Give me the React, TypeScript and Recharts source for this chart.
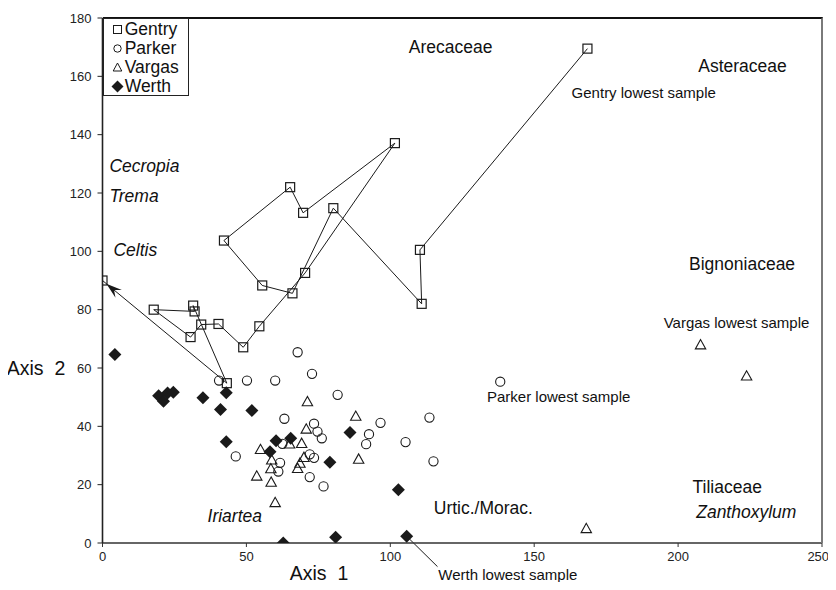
import React from 'react';
import { ScatterChart, Scatter, XAxis, YAxis, ReferenceLine, ReferenceDot } from 'recharts';

const FONT = '"Liberation Sans", Arial, Helvetica, sans-serif';
const INK = '#1a1a1a';

const xTicks = [0, 50, 100, 150, 200, 250];
const yTicks = [0, 20, 40, 60, 80, 100, 120, 140, 160, 180];

// Gentry core, in stratigraphic order: lowest sample first, top sample last
const gentry = [
  { x: 168.5, y: 169.5 }, { x: 110.3, y: 100.5 }, { x: 110.9, y: 82 }, { x: 80.2, y: 114.8 },
  { x: 66, y: 85.6 }, { x: 55.5, y: 88.3 }, { x: 42.2, y: 103.7 }, { x: 65.2, y: 122 },
  { x: 69.7, y: 113.2 }, { x: 101.6, y: 137.1 }, { x: 70.4, y: 92.6 }, { x: 54.5, y: 74.3 },
  { x: 48.9, y: 67.1 }, { x: 40.3, y: 75.1 }, { x: 34.3, y: 74.9 }, { x: 30.6, y: 70.6 },
  { x: 17.8, y: 80 }, { x: 32, y: 79.4 }, { x: 31.5, y: 81.4 }, { x: 43.2, y: 54.8 },
  { x: 0, y: 90 },
];

const parker = [
  { x: 40.5, y: 55.7 }, { x: 50.2, y: 55.7 }, { x: 60, y: 55.7 }, { x: 67.8, y: 65.4 },
  { x: 72.8, y: 58 }, { x: 81.7, y: 50.8 }, { x: 63.2, y: 42.6 }, { x: 73.5, y: 40.9 },
  { x: 74.7, y: 38.2 }, { x: 76.2, y: 35.9 }, { x: 62.5, y: 34 }, { x: 46.3, y: 29.7 },
  { x: 61.7, y: 27.5 }, { x: 61.1, y: 24.5 }, { x: 72, y: 30.4 }, { x: 73.5, y: 29.2 },
  { x: 72, y: 22.6 }, { x: 76.8, y: 19.4 }, { x: 92.6, y: 37.3 }, { x: 91.6, y: 33.9 },
  { x: 96.6, y: 41.2 }, { x: 105.3, y: 34.6 }, { x: 113.6, y: 43 }, { x: 115, y: 28 },
  { x: 138.2, y: 55.3 },
];

const vargas = [
  { x: 71.2, y: 48.4 }, { x: 88, y: 43.4 }, { x: 70.8, y: 39 }, { x: 69.2, y: 34.1 },
  { x: 65, y: 33.9 }, { x: 54.9, y: 32 }, { x: 58.8, y: 28.4 }, { x: 58.5, y: 25.4 },
  { x: 53.6, y: 22.9 }, { x: 58.6, y: 20.8 }, { x: 60, y: 13.8 }, { x: 67.8, y: 25.5 },
  { x: 68.6, y: 27.3 }, { x: 70, y: 29.3 }, { x: 89, y: 28.7 }, { x: 168.1, y: 4.9 },
  { x: 207.8, y: 67.9 }, { x: 223.8, y: 57.2 },
];

const werth = [
  { x: 4.3, y: 64.6 }, { x: 19.5, y: 50.5 }, { x: 21.2, y: 48.6 }, { x: 22.6, y: 51.4 },
  { x: 24.6, y: 51.7 }, { x: 34.9, y: 49.8 }, { x: 43, y: 51.5 }, { x: 41, y: 45.8 },
  { x: 51.9, y: 45.4 }, { x: 43, y: 34.7 }, { x: 60.3, y: 35.1 }, { x: 58.2, y: 31.3 },
  { x: 65.4, y: 35.9 }, { x: 79, y: 27.7 }, { x: 86, y: 37.9 }, { x: 102.8, y: 18.3 },
  { x: 62.8, y: 0 }, { x: 81, y: 2 }, { x: 105.7, y: 2.3 },
];

const seriesNames = ['Gentry', 'Parker', 'Vargas', 'Werth'];

// text notes placed in data units (left edge, vertical centre)
const notes = [
  { text: 'Arecaceae', x: 106.4, y: 170, size: 17.5, italic: false },
  { text: 'Asteraceae', x: 207, y: 163.7, size: 17.5, italic: false },
  { text: 'Gentry lowest sample', x: 163, y: 154.5, size: 15, italic: false },
  { text: 'Cecropia', x: 2.4, y: 129.4, size: 17.5, italic: true },
  { text: 'Trema', x: 2.4, y: 119.1, size: 17.5, italic: true },
  { text: 'Celtis', x: 3.8, y: 100.3, size: 17.5, italic: true },
  { text: 'Bignoniaceae', x: 203.8, y: 95.8, size: 17.5, italic: false },
  { text: 'Vargas lowest sample', x: 195, y: 75.7, size: 15, italic: false },
  { text: 'Parker lowest sample', x: 133.6, y: 50.3, size: 15, italic: false },
  { text: 'Tiliaceae', x: 205, y: 19.1, size: 17.5, italic: false },
  { text: 'Zanthoxylum', x: 206.3, y: 10.6, size: 17.5, italic: true },
  { text: 'Urtic./Morac.', x: 115.1, y: 11.9, size: 17.5, italic: false },
  { text: 'Iriartea', x: 36.5, y: 9.1, size: 17.5, italic: true },
  { text: 'Werth lowest sample', x: 116.7, y: -10.7, size: 15, italic: false },
];

const Square = (p: any) => (
  <rect x={p.cx - 4.5} y={p.cy - 4.5} width={9} height={9} fill="none" stroke={INK} strokeWidth={1.2} />
);
const Ring = (p: any) => (
  <circle cx={p.cx} cy={p.cy} r={4.6} fill="none" stroke={INK} strokeWidth={1.1} />
);
const Tri = (p: any) => (
  <polygon
    points={`${p.cx},${p.cy - 5.4} ${p.cx - 5.2},${p.cy + 3.9} ${p.cx + 5.2},${p.cy + 3.9}`}
    fill="none" stroke={INK} strokeWidth={1.1}
  />
);
const Diamond = (p: any) => (
  <polygon
    points={`${p.cx},${p.cy - 6.5} ${p.cx + 6.5},${p.cy} ${p.cx},${p.cy + 6.5} ${p.cx - 6.5},${p.cy}`}
    fill={INK}
  />
);

// arrowhead only; the segment itself is part of the Gentry line
const ArrowHead = (p: any) => {
  const { x1, y1, x2, y2 } = p;
  const len = Math.hypot(x2 - x1, y2 - y1) || 1;
  const ux = (x2 - x1) / len, uy = (y2 - y1) / len;
  const tx = x2 - ux * 5, ty = y2 - uy * 5;
  const bx = tx - ux * 16, by = ty - uy * 16;
  const nx = tx - ux * 10, ny = ty - uy * 10;
  const pts = `${tx},${ty} ${bx - uy * 5},${by + ux * 5} ${nx},${ny} ${bx + uy * 5},${by - ux * 5}`;
  return <polygon points={pts} fill={INK} />;
};

const Pointer = (p: any) => (
  <line x1={p.x1} y1={p.y1} x2={p.x2} y2={p.y2} stroke={INK} strokeWidth={1} />
);

const NoteText = (n: any) => (p: any) => (
  <text
    x={p.cx} y={p.cy} dominantBaseline="central" fontFamily={FONT} fontSize={n.size}
    fontStyle={n.italic ? 'italic' : 'normal'} fill="#111"
  >
    {n.text}
  </text>
);

const legendIcon = (name: string) => {
  if (name === 'Gentry') return <rect x={1.5} y={1.5} width={8} height={8} fill="none" stroke={INK} strokeWidth={1} />;
  if (name === 'Parker') return <circle cx={5.5} cy={5.5} r={3.7} fill="none" stroke={INK} strokeWidth={1} />;
  if (name === 'Vargas') return <polygon points="5.5,1 1.2,9 9.8,9" fill="none" stroke={INK} strokeWidth={1} />;
  return <polygon points="5.5,-0.5 11.5,5.5 5.5,11.5 -0.5,5.5" fill={INK} />;
};

export default function App() {
  const top = gentry[gentry.length - 1];
  const prev = gentry[gentry.length - 2];
  const werthLowest = werth[werth.length - 1];
  return (
    <div style={{ position: 'relative', width: 820, height: 582, marginBottom: -8 }}>
      <style>{'svg.recharts-surface{overflow:visible}'}</style>
      <ScatterChart width={820} height={582} margin={{ top: 10, right: 6, left: 50.5, bottom: 17 }}>
        <XAxis
          dataKey="x" type="number" domain={[0, 250]} ticks={xTicks} height={30}
          tickSize={4} tickMargin={5} allowDataOverflow
          axisLine={{ stroke: '#333', strokeWidth: 1.6 }} tickLine={{ stroke: '#333' }}
          tick={{ fontSize: 13, fill: '#222', fontFamily: FONT }}
          label={{
            content: () => (
              <text x={311} y={565} textAnchor="middle" dominantBaseline="central" fontFamily={FONT} fontSize={19.5} fill="#111">
                {'Axis\u00A0 1'}
              </text>
            ),
          }}
        />
        <YAxis
          dataKey="y" type="number" domain={[0, 180]} ticks={yTicks} width={44}
          tickSize={5} tickMargin={6} allowDataOverflow
          axisLine={{ stroke: '#222', strokeWidth: 1.6 }} tickLine={{ stroke: '#222' }}
          tick={{ fontSize: 13, fill: '#222', fontFamily: FONT }}
          label={{
            content: () => (
              <text x={28} y={360} textAnchor="middle" dominantBaseline="central" fontFamily={FONT} fontSize={19.5} fill="#111">
                {'Axis\u00A0 2'}
              </text>
            ),
          }}
        />
        <Scatter name="Parker" data={parker} shape={Ring} isAnimationActive={false} />
        <Scatter name="Vargas" data={vargas} shape={Tri} isAnimationActive={false} />
        <Scatter name="Werth" data={werth} shape={Diamond} isAnimationActive={false} />
        <Scatter
          name="Gentry" data={gentry} shape={Square} line={{ stroke: INK, strokeWidth: 1 }}
          lineType="joint" isAnimationActive={false}
        />
        <ReferenceLine segment={[prev, top]} ifOverflow="visible" shape={ArrowHead} />
        <ReferenceLine
          segment={[werthLowest, { x: 116.4, y: -8.1 }]} ifOverflow="visible" shape={Pointer}
        />
        {notes.map((n) => (
          <ReferenceDot key={n.text} x={n.x} y={n.y} r={0} ifOverflow="visible" shape={NoteText(n)} />
        ))}
      </ScatterChart>
      {/* plot frame: dark top edge, grey right edge */}
      <div
        style={{
          position: 'absolute', left: 94.5, top: 8.5, width: 720.5, height: 526.5,
          borderTop: '2px solid #111', borderRight: '2px solid #7a7a7a',
          boxSizing: 'border-box', pointerEvents: 'none',
        }}
      />
      <div
        style={{
          position: 'absolute', left: 94.7, top: 10.3, width: 84, height: 75,
          border: '1px solid #222', background: '#fff', fontFamily: FONT, fontSize: 17.5,
          color: '#111', paddingTop: 0.5, boxSizing: 'content-box',
        }}
      >
        {seriesNames.map((name) => (
          <div key={name} style={{ display: 'flex', alignItems: 'center', height: 19.2, lineHeight: '19px' }}>
            <svg width={11} height={11} style={{ marginLeft: 8.5, marginRight: 1.5, overflow: 'visible' }}>
              {legendIcon(name)}
            </svg>
            <span>{name}</span>
          </div>
        ))}
      </div>
    </div>
  );
}
